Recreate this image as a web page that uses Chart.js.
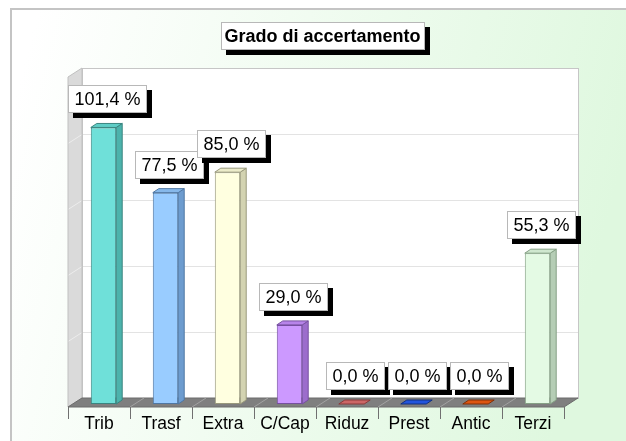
<!DOCTYPE html>
<html>
<head>
<meta charset="utf-8">
<script src="https://cdn.jsdelivr.net/npm/chart.js@4.4.1/dist/chart.umd.min.js"></script>
<style>
  html, body { margin: 0; padding: 0; background: #fff; }
</style>
</head>
<body>
<canvas id="grado" width="626" height="441"></canvas>
<script>
const titolo = 'Grado di accertamento';
const categorie = ['Trib', 'Trasf', 'Extra', 'C/Cap', 'Riduz', 'Prest', 'Antic', 'Terzi'];
const percentuali = [101.4, 77.5, 85.0, 29.0, 0.0, 0.0, 0.0, 55.3];
const yMax = 121;
const yStep = 24.2;

const frontColors = ['#6fe0d9', '#99ccff', '#ffffe0', '#cc99ff', '#cc6666', '#2255dd', '#dd5511', '#e4fae4'];
const sideColors  = ['#4cb3ac', '#6d9ccf', '#d3d3b1', '#9c6dcc', '#a04848', '#1a3fa8', '#a83f0c', '#b5cdb5'];
const topColors   = ['#5fcdc6', '#86b8ea', '#ececca', '#b784ea', '#cc6666', '#2255dd', '#dd5511', '#cfe7cf'];
const edgeColors  = ['#3a8580', '#4f77a3', '#98987c', '#7650a0', '#8a3a3a', '#12307f', '#803008', '#85a085'];

const FONT = '"Liberation Sans", Arial, sans-serif';
const depth = { x: 14, y: -9 };
const barShift = { x: 4.5, y: -3 };
const barDepth = { x: 6, y: -4 };

function fmt(v) {
  return v.toFixed(1).replace('.', ',') + ' %';
}

function poly(ctx, pts, fill, stroke) {
  ctx.beginPath();
  ctx.moveTo(pts[0][0], pts[0][1]);
  for (let i = 1; i < pts.length; i++) ctx.lineTo(pts[i][0], pts[i][1]);
  ctx.closePath();
  if (fill) { ctx.fillStyle = fill; ctx.fill(); }
  if (stroke) { ctx.strokeStyle = stroke; ctx.lineWidth = 1; ctx.stroke(); }
}

function shadowBox(ctx, x, y, w, h) {
  ctx.fillStyle = '#000';
  ctx.fillRect(x + 5, y + 5, w, h);
  ctx.fillStyle = '#fff';
  ctx.fillRect(x, y, w, h);
  ctx.strokeStyle = '#b8b8b8';
  ctx.lineWidth = 1;
  ctx.strokeRect(x + 0.5, y + 0.5, w - 1, h - 1);
}

// background, frame, walls and floor
const scena = {
  id: 'scena',
  beforeDraw(chart) {
    const { ctx, width, height } = chart;
    const { left: L, right: R, top: T, bottom: B } = chart.chartArea;
    const dx = depth.x, dy = depth.y;
    ctx.save();
    ctx.fillStyle = '#fff';
    ctx.fillRect(0, 0, width, height);
    const g = ctx.createLinearGradient(40, 0, width, 150);
    g.addColorStop(0, '#ffffff');
    g.addColorStop(1, '#dff8df');
    ctx.fillStyle = g;
    ctx.fillRect(12, 10, width - 12, height - 10);
    ctx.strokeStyle = '#c4c4c4';
    ctx.lineWidth = 2;
    ctx.beginPath();
    ctx.moveTo(11, height);
    ctx.lineTo(11, 9);
    ctx.lineTo(width, 9);
    ctx.stroke();

    // back wall
    ctx.fillStyle = '#fff';
    ctx.fillRect(L + dx, T + dy, R - L, B - T);
    // left wall
    poly(ctx, [[L, T], [L + dx, T + dy], [L + dx, B + dy], [L, B]], '#dadada', null);

    const ys = chart.scales.y;
    ctx.lineWidth = 1;
    for (let v = yStep; v < yMax - 0.01; v += yStep) {
      const py = Math.round(ys.getPixelForValue(v)) + 0.5;
      ctx.strokeStyle = '#e3e3e3';
      ctx.beginPath();
      ctx.moveTo(L + dx, py + dy);
      ctx.lineTo(R + dx, py + dy);
      ctx.stroke();
      ctx.strokeStyle = '#ededed';
      ctx.beginPath();
      ctx.moveTo(L, py);
      ctx.lineTo(L + dx, py + dy);
      ctx.stroke();
    }
    ctx.strokeStyle = '#c6c6c6';
    ctx.strokeRect(L + dx + 0.5, T + dy + 0.5, R - L, B - T);
    poly(ctx, [[L, T], [L + dx, T + dy], [L + dx, B + dy], [L, B]], null, '#c0c0c0');

    // floor
    poly(ctx, [[L, B], [L + dx, B + dy], [R + dx, B + dy], [R, B]], '#7f7f7f', '#6c6c6c');
    const n = categorie.length;
    ctx.strokeStyle = '#a2a2a2';
    for (let i = 1; i < n; i++) {
      const bx = L + i * (R - L) / n;
      ctx.beginPath();
      ctx.moveTo(bx, B);
      ctx.lineTo(bx + dx, B + dy);
      ctx.stroke();
    }
    ctx.restore();
  },
  beforeDatasetsDraw(chart) {
    chart.ctx.save();
    chart.ctx.translate(barShift.x, barShift.y);
  },
  afterDatasetsDraw(chart) {
    const ctx = chart.ctx;
    const meta = chart.getDatasetMeta(0);
    meta.data.forEach((bar, i) => {
      const p = bar.getProps(['x', 'y', 'base', 'width'], true);
      const xl = p.x - p.width / 2, xr = p.x + p.width / 2;
      const top = p.y, base = p.base;
      const bx = barDepth.x, by = barDepth.y;
      if (base - top > 0.5) {
        poly(ctx, [[xr, top], [xr + bx, top + by], [xr + bx, base + by], [xr, base]], sideColors[i], edgeColors[i]);
      }
      poly(ctx, [[xl, top], [xl + bx, top + by], [xr + bx, top + by], [xr, top]], topColors[i], edgeColors[i]);
    });
    ctx.restore();

    // value labels
    ctx.save();
    ctx.font = '18px ' + FONT;
    ctx.textAlign = 'center';
    ctx.textBaseline = 'middle';
    meta.data.forEach((bar, i) => {
      const txt = fmt(percentuali[i]);
      const w = Math.round(ctx.measureText(txt).width) + 13;
      const h = 28;
      const cx = bar.x + barShift.x + 4;
      const bottom = bar.y + barShift.y - 14;
      const x = Math.round(cx - w / 2), y = Math.round(bottom - h);
      shadowBox(ctx, x, y, w, h);
      ctx.fillStyle = '#000';
      ctx.fillText(txt, x + w / 2, y + h / 2 + 1);
    });
    ctx.restore();
  },
  afterDraw(chart) {
    const ctx = chart.ctx;
    ctx.save();
    ctx.font = 'bold 18px ' + FONT;
    ctx.textAlign = 'center';
    ctx.textBaseline = 'middle';
    const w = Math.round(ctx.measureText(titolo).width) + 8;
    const h = 28;
    const cx = 322.5;
    const x = Math.round(cx - w / 2), y = 22;
    shadowBox(ctx, x, y, w, h);
    ctx.fillStyle = '#000';
    ctx.fillText(titolo, cx, y + h / 2 + 1);
    ctx.restore();
  }
};

new Chart(document.getElementById('grado'), {
  type: 'bar',
  data: {
    labels: categorie,
    datasets: [{
      label: titolo,
      data: percentuali,
      backgroundColor: frontColors,
      borderColor: edgeColors,
      borderWidth: 1,
      borderSkipped: false,
      barPercentage: 0.41,
      categoryPercentage: 1
    }]
  },
  options: {
    responsive: false,
    animation: false,
    events: [],
    layout: { padding: { left: 68, right: 62, top: 77, bottom: 2 } },
    plugins: {
      legend: { display: false },
      title: { display: false },
      tooltip: { enabled: false }
    },
    scales: {
      x: {
        grid: { offset: true, drawOnChartArea: false, tickLength: 12, color: '#707070' },
        border: { display: false },
        ticks: { color: '#000', padding: -5, font: { size: 17.5, family: FONT, lineHeight: '20px' } },
        // empty title only reserves room below the labels so they are not clipped
        title: { display: true, text: '', padding: 0, font: { size: 10, lineHeight: '10px' } }
      },
      y: {
        display: false,
        min: 0,
        max: yMax
      }
    }
  },
  plugins: [scena]
});
</script>
</body>
</html>
